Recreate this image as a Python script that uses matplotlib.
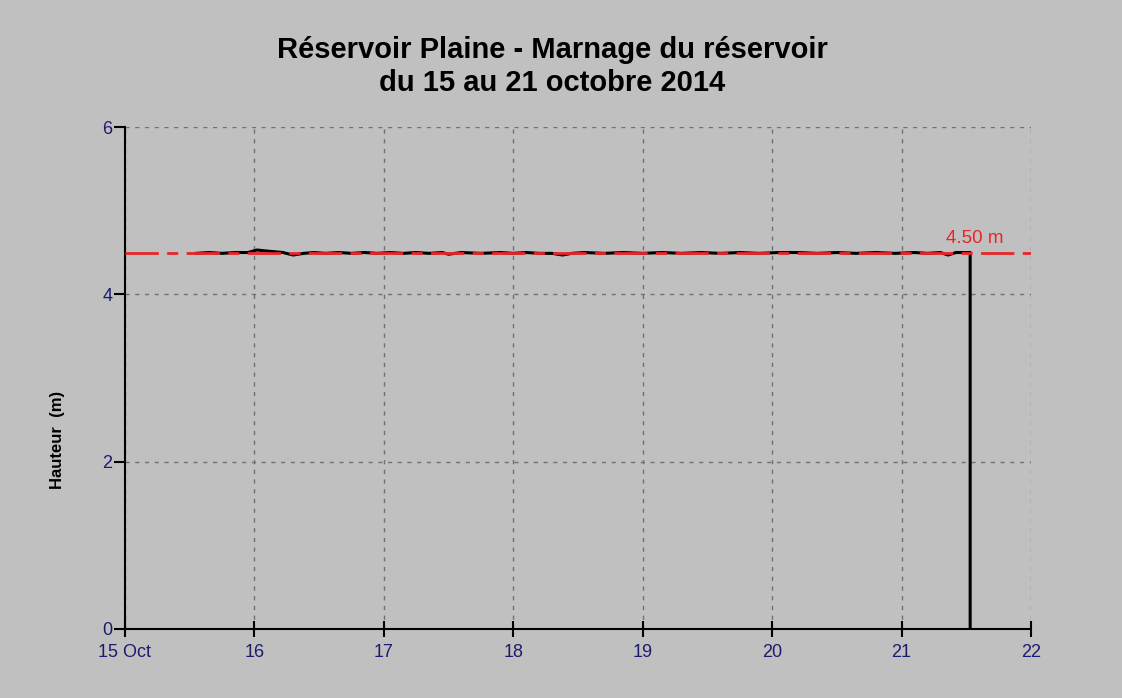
import matplotlib
matplotlib.use("Agg")
import matplotlib.pyplot as plt

plt.rcParams['font.family'] = ['Liberation Sans', 'DejaVu Sans']

# water level (m) vs time (day of October 2014)
jours = [15.55, 15.65, 15.75, 15.85, 15.95, 16.02, 16.08, 16.15, 16.22, 16.3,
         16.38, 16.46, 16.55, 16.65, 16.75, 16.85, 16.95, 17.05, 17.15, 17.25,
         17.35, 17.45, 17.5, 17.6, 17.75, 17.9, 18.0, 18.1, 18.2, 18.3,
         18.38, 18.45, 18.55, 18.7, 18.85, 19.0, 19.15, 19.3, 19.45, 19.6,
         19.75, 19.9, 20.05, 20.2, 20.35, 20.5, 20.65, 20.8, 20.95, 21.1,
         21.2, 21.3, 21.36, 21.42, 21.48, 21.53, 21.53]
hauteur = [4.49, 4.50, 4.49, 4.50, 4.50, 4.53, 4.52, 4.51, 4.50, 4.47,
           4.49, 4.50, 4.49, 4.50, 4.49, 4.50, 4.49, 4.50, 4.49, 4.50,
           4.49, 4.50, 4.48, 4.50, 4.49, 4.50, 4.49, 4.50, 4.49, 4.49,
           4.47, 4.49, 4.50, 4.49, 4.50, 4.49, 4.50, 4.49, 4.50, 4.49,
           4.50, 4.49, 4.50, 4.50, 4.49, 4.50, 4.49, 4.50, 4.49, 4.50,
           4.49, 4.50, 4.47, 4.50, 4.50, 4.50, 0.0]
seuil = 4.50
x_ticks = [15, 16, 17, 18, 19, 20, 21, 22]
x_labels = ["15 Oct", "16", "17", "18", "19", "20", "21", "22"]
y_ticks = [0, 2, 4, 6]

fig = plt.figure(figsize=(11.22, 6.98), dpi=100, facecolor="#c0c0c0")
ax = fig.add_axes([0.1114, 0.0989, 0.8075, 0.7191])
ax.set_facecolor("#c0c0c0")

ax.plot(jours, hauteur, color="black", lw=2.2, zorder=3)
ax.axhline(seuil, color="#e8262a", lw=2.0, dashes=(12, 3, 4, 3), zorder=4)
ax.text(21.34, seuil + 0.06, "4.50 m", color="#e8262a", fontsize=13.5,
        ha="left", va="bottom")

ax.set_xlim(15, 22)
ax.set_ylim(0, 6)
ax.set_xticks(x_ticks)
ax.set_xticklabels(x_labels)
ax.set_yticks(y_ticks)
ax.grid(True, color="#707070", lw=1.0, dashes=(3, 4))
ax.set_axisbelow(True)

for s in ["top", "right"]:
    ax.spines[s].set_visible(False)
for s in ["left", "bottom"]:
    ax.spines[s].set_linewidth(1.5)
ax.tick_params(axis="x", direction="inout", length=12, width=1.5,
               labelsize=13, labelcolor="#1c1c6e", pad=5)
ax.tick_params(axis="y", direction="out", length=8, width=1.5,
               labelsize=13, labelcolor="#1c1c6e", pad=1)

ax.set_ylabel("Hauteur  (m)", fontsize=12, fontweight="bold")
ax.yaxis.set_label_coords(-0.066, 0.376)
fig.suptitle("Réservoir Plaine - Marnage du réservoir\ndu 15 au 21 octobre 2014",
             fontsize=21, fontweight="bold", x=0.492, y=0.948, linespacing=1.22)

fig.savefig("out.png", dpi=100, facecolor=fig.get_facecolor())
